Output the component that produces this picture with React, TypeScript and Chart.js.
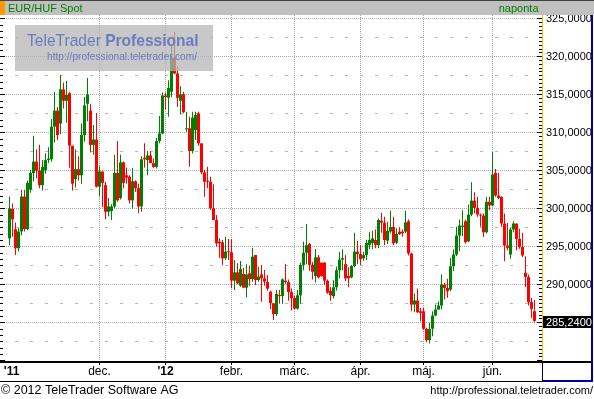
import React, { useEffect, useRef } from 'react';
import { Chart, registerables } from 'chart.js';

Chart.register(...registerables);

const FONT = '"Liberation Sans", Arial, Helvetica, sans-serif';
const GREEN = '#008000';
const RED = '#ff0000';

// trading-day index of the first candle (0 = 1 Dec 2011, one step per weekday)
const FIRST_DAY = -30;

const opens = [
  296.1, 300.0, 297.3, 294.8, 297.0, 301.6, 297.3, 302.5, 304.7, 306.2,
  305.0, 303.1, 305.1, 306.4, 306.5, 310.8, 312.9, 311.2, 315.7, 314.2,
  315.2, 308.3, 303.9, 305.2, 304.4, 309.7, 313.8, 312.9, 308.4, 309.1,
  302.9, 304.9, 303.1, 299.6, 299.7, 300.3, 304.7, 301.4, 306.1, 304.4,
  304.2, 301.1, 303.6, 302.7, 300.3, 306.7, 306.4, 307.0, 306.0, 305.5,
  308.9, 309.9, 314.9, 314.6, 315.4, 319.9, 317.8, 314.2, 315.05, 310.45,
  310.58, 307.59, 310.36, 312.55, 308.6, 304.78, 303.69, 303.55, 300.05, 298.51,
  295.66, 295.57, 293.47, 294.35, 294.26, 290.53, 291.63, 289.87, 291.41, 289.61,
  291.5, 290.75, 293.91, 290.62, 291.36, 290.84, 290.35, 289.08, 287.55, 286.14,
  288.6, 288.5, 290.53, 290.35, 289.04, 288.25, 286.85, 288.6, 292.6, 294.2,
  295.35, 292.6, 291.15, 293.6, 292.9, 292.9, 290.53, 289.2, 288.5, 289.65,
  291.9, 293.3, 292.7, 291.15, 290.97, 292.46, 294.35, 294.04, 293.47, 293.9,
  295.22, 295.5, 295.88, 295.22, 298.42, 298.16, 295.8, 297.0, 297.6, 295.53,
  296.98, 296.98, 296.98, 298.35, 294.1, 287.39, 287.92, 286.51, 286.51, 284.19,
  282.7, 284.19, 285.94, 286.73, 287.26, 290.02, 289.58, 289.36, 292.43, 293.97,
  296.47, 297.61, 298.35, 295.72, 299.23, 301.07, 300.11, 299.23, 299.1, 296.9,
  300.9, 300.42, 304.71, 301.73, 301.56, 298.05, 295.15, 293.97, 297.26, 298.05,
  296.03, 294.98, 291.56, 291.03, 287.7, 286.51,
];
const highs = [
  301.6, 300.7, 298.2, 297.5, 302.5, 302.5, 303.7, 305.1, 309.6, 307.8,
  308.4, 306.4, 307.3, 308.1, 311.8, 315.4, 313.4, 317.6, 316.6, 316.8,
  315.4, 308.3, 307.8, 306.9, 311.2, 314.7, 317.2, 313.8, 311.0, 312.6,
  305.6, 304.9, 303.5, 301.4, 300.6, 307.1, 308.9, 307.1, 306.2, 305.4,
  304.4, 305.4, 303.7, 303.3, 306.9, 308.6, 307.6, 307.6, 306.6, 309.3,
  312.2, 315.3, 315.3, 316.9, 321.5, 323.3, 318.7, 316.1, 315.4, 312.77,
  312.1, 312.77, 312.77, 312.77, 308.6, 305.09, 305.53, 304.21, 303.21, 299.17,
  296.1, 295.88, 296.32, 296.01, 296.01, 293.25, 292.81, 293.12, 292.24, 292.68,
  292.5, 294.87, 293.91, 292.37, 292.59, 291.93, 291.28, 289.2, 287.55, 289.3,
  289.3, 290.8, 292.72, 290.7, 289.5, 288.5, 289.3, 292.9, 295.7, 297.99,
  295.5, 293.0, 294.7, 293.9, 292.9, 293.0, 290.7, 289.7, 290.6, 292.4,
  294.3, 294.65, 293.9, 292.3, 292.6, 296.85, 295.8, 295.2, 294.35, 295.9,
  296.98, 297.1, 297.28, 298.7, 299.48, 298.95, 298.3, 299.74, 298.95, 297.42,
  297.55, 297.28, 299.74, 298.57, 294.19, 288.84, 289.5, 286.95, 286.95, 284.32,
  284.98, 286.51, 287.39, 287.83, 291.34, 290.24, 290.77, 293.53, 294.63, 297.61,
  298.57, 299.8, 298.57, 300.55, 303.49, 302.17, 301.56, 299.36, 299.36, 301.56,
  301.56, 307.48, 305.24, 304.71, 301.64, 299.36, 298.13, 297.48, 298.35, 298.05,
  297.35, 296.82, 293.75, 291.34, 288.27, 287.96,
];
const lows = [
  295.2, 296.3, 293.9, 294.4, 296.5, 297.0, 297.2, 302.1, 303.6, 304.0,
  302.7, 302.4, 304.6, 306.0, 306.2, 308.7, 309.0, 309.8, 313.2, 311.3,
  305.4, 302.4, 302.8, 303.7, 303.3, 308.8, 311.5, 307.4, 307.1, 302.8,
  301.6, 300.2, 298.6, 299.0, 298.5, 300.1, 300.9, 301.2, 302.7, 303.3,
  300.7, 300.0, 302.2, 299.4, 299.6, 305.4, 304.4, 306.0, 305.4, 305.3,
  308.6, 309.8, 313.1, 312.1, 314.7, 317.7, 313.4, 312.4, 312.55, 310.14,
  305.53, 307.28, 309.04, 308.29, 304.52, 301.59, 302.68, 299.83, 298.51, 295.0,
  293.56, 292.59, 293.25, 293.25, 289.52, 289.3, 290.05, 289.74, 289.52, 288.3,
  289.87, 290.4, 289.96, 290.4, 287.77, 289.87, 289.21, 286.8, 285.35, 285.88,
  287.5, 287.5, 290.1, 287.9, 286.6, 286.76, 286.7, 287.5, 291.9, 292.7,
  291.85, 290.7, 290.3, 290.84, 291.06, 289.96, 288.8, 287.9, 288.2, 289.2,
  290.8, 291.9, 290.5, 289.65, 290.84, 292.3, 292.7, 292.6, 293.16, 293.25,
  294.65, 294.65, 294.8, 294.8, 296.85, 295.22, 295.35, 296.76, 295.22, 295.35,
  296.54, 296.32, 296.76, 293.84, 286.51, 286.38, 286.29, 285.2, 284.1, 282.43,
  282.26, 283.22, 285.85, 286.73, 286.73, 288.05, 288.27, 289.14, 291.78, 293.75,
  294.41, 296.38, 295.42, 295.59, 299.01, 299.36, 298.93, 297.61, 296.29, 296.73,
  299.8, 300.33, 301.56, 301.29, 297.61, 293.09, 294.54, 293.4, 296.9, 294.54,
  294.72, 293.66, 289.71, 287.26, 285.63, 285.06,
];
const closes = [
  300.0, 298.6, 294.8, 297.0, 301.6, 297.3, 303.4, 304.7, 306.2, 305.0,
  303.1, 305.5, 306.4, 306.6, 310.8, 312.9, 309.7, 315.7, 314.2, 315.0,
  308.3, 303.3, 305.2, 304.4, 309.7, 313.6, 315.0, 308.4, 309.1, 302.9,
  304.9, 303.4, 299.6, 300.3, 300.3, 304.7, 301.1, 306.1, 303.4, 304.1,
  301.1, 303.6, 302.7, 300.3, 306.5, 306.5, 307.0, 306.0, 305.5, 308.9,
  309.9, 314.9, 314.7, 315.9, 319.9, 317.8, 314.6, 315.05, 312.7, 310.58,
  307.59, 311.98, 312.33, 308.6, 304.78, 303.55, 303.55, 300.05, 298.51, 295.44,
  295.44, 293.47, 294.35, 294.26, 290.53, 291.63, 290.18, 292.07, 289.61, 291.36,
  290.75, 293.69, 290.62, 291.06, 290.84, 290.4, 289.48, 287.6, 286.14, 288.78,
  288.5, 290.7, 290.35, 289.04, 288.25, 286.85, 288.6, 292.6, 294.2, 295.2,
  292.6, 291.7, 293.6, 290.97, 291.15, 290.53, 288.95, 288.6, 289.65, 291.9,
  293.3, 293.5, 290.84, 290.84, 292.46, 294.35, 294.04, 293.34, 293.9, 295.5,
  295.88, 296.1, 295.22, 298.51, 298.16, 295.88, 297.1, 297.6, 295.44, 296.67,
  296.67, 296.76, 298.2, 294.1, 287.39, 287.92, 286.38, 286.29, 284.19, 282.7,
  284.19, 285.94, 286.73, 287.26, 290.02, 289.58, 289.14, 292.43, 293.97, 296.47,
  297.78, 297.78, 295.59, 299.23, 301.07, 300.11, 299.23, 299.1, 296.9, 300.9,
  300.42, 304.49, 301.73, 301.42, 298.05, 295.15, 294.85, 297.26, 298.05, 296.03,
  294.98, 293.84, 291.03, 287.7, 286.82, 285.24,
];

const xTickDays = [-29.3, 0, 22, 44, 65, 87, 108, 131];
const xTickLabels = ["'11", 'dec.', "'12", 'febr.', 'márc.', 'ápr.', 'máj.', 'jún.'];
const monthGridDays = [0, 22, 44, 65, 87, 108, 131];
const yLabelValues = [290, 295, 300, 305, 310, 315, 320, 325];
const yMajorGrid = [285, 290, 295, 300, 305, 310, 315, 320, 325];
const yMinorGrid = [282.5, 287.5, 292.5, 297.5, 302.5, 307.5, 312.5, 317.5, 322.5];
const lastPrice = 285.24;

const X_MIN = -33 - 1 / 6;
const X_MAX = X_MIN + 542 / 3;
const Y_MIN = 279.96;
const Y_MAX = 325.49;

const fmt = (v: number) => v.toFixed(4).replace('.', ',');
const font = (size: number, weight = 'normal') => `${weight} ${size}px ${FONT}`;

const decor = {
  id: 'decor',
  beforeDraw(chart: any) {
    const { ctx, width, height } = chart;
    ctx.save();
    ctx.fillStyle = '#ffffff';
    ctx.fillRect(0, 0, width, height);
    ctx.restore();
  },
  beforeDatasetsDraw(chart: any) {
    const { ctx, chartArea: a, scales } = chart;
    const x = scales.x;
    const y = scales.y;
    ctx.save();
    ctx.beginPath();
    ctx.rect(a.left, a.top, a.right - a.left, a.bottom - a.top);
    ctx.clip();
    ctx.lineWidth = 1;
    ctx.strokeStyle = '#b8b8b8';
    ctx.setLineDash([3, 12]);
    for (const v of yMinorGrid) {
      const py = Math.floor(y.getPixelForValue(v)) + 0.5;
      ctx.beginPath();
      ctx.moveTo(a.left, py);
      ctx.lineTo(a.right, py);
      ctx.stroke();
    }
    ctx.strokeStyle = '#a8a8a8';
    ctx.setLineDash([1, 1]);
    for (const v of yMajorGrid) {
      const py = Math.floor(y.getPixelForValue(v)) + 0.5;
      ctx.beginPath();
      ctx.moveTo(a.left, py);
      ctx.lineTo(a.right, py);
      ctx.stroke();
    }
    for (const d of monthGridDays) {
      const px = Math.floor(x.getPixelForValue(d)) + 0.5;
      ctx.beginPath();
      ctx.moveTo(px, a.top);
      ctx.lineTo(px, a.bottom);
      ctx.stroke();
    }
    ctx.restore();
  },
  afterDatasetsDraw(chart: any) {
    const { ctx, chartArea: a, scales, width } = chart;
    const x = scales.x;
    const y = scales.y;
    ctx.save();

    // watermark
    ctx.fillStyle = 'rgba(179,179,179,0.73)';
    ctx.fillRect(15, 25, 198, 46);
    ctx.fillStyle = '#6b7bbf';
    ctx.textBaseline = 'alphabetic';
    ctx.textAlign = 'left';
    ctx.font = font(17);
    const w1 = ctx.measureText('TeleTrader ').width;
    ctx.font = font(17, 'bold');
    const w2 = ctx.measureText('Professional').width;
    ctx.save();
    ctx.translate(27, 46);
    ctx.scale(171.6 / (w1 + w2), 1);
    ctx.font = font(17);
    ctx.fillText('TeleTrader ', 0, 0);
    ctx.font = font(17, 'bold');
    ctx.fillText('Professional', w1, 0);
    ctx.restore();
    ctx.font = font(10);
    const w3 = ctx.measureText('http://professional.teletrader.com/').width;
    ctx.save();
    ctx.translate(47, 60);
    ctx.scale(150 / w3, 1);
    ctx.fillText('http://professional.teletrader.com/', 0, 0);
    ctx.restore();

    // header band
    ctx.fillStyle = '#c0c0c0';
    ctx.fillRect(0, 0, width, 15);
    ctx.fillStyle = '#404040';
    ctx.fillRect(0, 0, width, 1);
    ctx.fillStyle = '#ff9900';
    ctx.fillRect(0, 1, 5, 14);
    ctx.fillStyle = '#008000';
    ctx.font = font(11);
    ctx.fillText('EUR/HUF Spot', 8, 11.5);
    ctx.textAlign = 'right';
    ctx.fillText('naponta', 538.5, 11.5);
    ctx.textAlign = 'left';

    // left tick marks
    ctx.fillStyle = '#000';
    for (let k = 0; k <= 54; k++) {
      const v = 280 + (k * 5) / 6;
      if (v > Y_MAX) break;
      const py = Math.floor(y.getPixelForValue(v));
      const major = k % 6 === 0;
      ctx.fillRect(0, py, major ? 5 : 3, 1);
    }
    // right tick marks
    for (let k = 0; k <= 91; k++) {
      const v = 280 + k * 0.5;
      if (v > Y_MAX) break;
      const py = Math.floor(y.getPixelForValue(v));
      const major = k % 10 === 0;
      ctx.fillRect(major ? 537 : 539, py, major ? 5 : 3, 1);
    }

    // right axis panel borders
    ctx.fillStyle = '#f0c000';
    ctx.fillRect(a.right, a.top, 1, a.bottom - a.top);
    ctx.fillStyle = '#000';
    ctx.fillRect(0, a.bottom, width - 1, 2);
    ctx.fillRect(0, a.bottom + 20, a.right, 1);
    ctx.fillRect(a.right, a.bottom, 1, 20);
    ctx.fillStyle = '#0000a0';
    ctx.fillRect(width - 3, a.top, 2, a.bottom + 21 - a.top);
    ctx.fillRect(a.right, a.bottom + 19, width - 1 - a.right, 2);

    // x tick marks
    ctx.fillStyle = '#000';
    for (const d of monthGridDays) {
      const px = Math.floor(x.getPixelForValue(d));
      ctx.fillRect(px, a.bottom + 2, 1, 2);
    }

    // last price box
    const lp = y.getPixelForValue(lastPrice);
    ctx.fillStyle = '#000';
    ctx.fillRect(a.right + 1, Math.round(lp) - 5, 49, 12);
    ctx.fillStyle = '#fff';
    ctx.font = font(11);
    ctx.textBaseline = 'middle';
    ctx.fillText(fmt(lastPrice), a.right + 4, Math.round(lp) + 1.5);

    // footer
    ctx.textBaseline = 'alphabetic';
    ctx.fillStyle = '#000';
    ctx.font = font(12.5);
    ctx.fillText('\u00a9 2012 TeleTrader Software AG', 1, 394);
    ctx.font = font(11);
    ctx.textAlign = 'right';
    ctx.fillText('http://professional.teletrader.com/', 593, 394);
    ctx.restore();
  },
};

export default function App() {
  const ref = useRef<HTMLCanvasElement>(null);

  useEffect(() => {
    const canvas = ref.current;
    if (!canvas) return;
    const days = opens.map((_, k) => FIRST_DAY + k);
    const colors = opens.map((o, k) => (closes[k] >= o ? GREEN : RED));

    const chart = new Chart(canvas, {
      type: 'bar',
      data: {
        datasets: [
          {
            label: 'wick',
            data: days.map((d, k) => ({ x: d, y: [lows[k], highs[k]] })) as any,
            backgroundColor: colors,
            borderWidth: 0,
            barThickness: 1,
            grouped: false,
            inflateAmount: 0,
            order: 2,
          } as any,
          {
            label: 'body',
            data: days.map((d, k) => ({ x: d, y: [opens[k], closes[k]] })) as any,
            backgroundColor: colors,
            borderWidth: 0,
            barThickness: 3,
            minBarLength: 1,
            grouped: false,
            inflateAmount: 0,
            order: 1,
          } as any,
        ],
      },
      options: {
        animation: false,
        responsive: false,
        devicePixelRatio: 1,
        events: [],
        layout: { padding: { left: 0, right: 1, top: 15, bottom: 18 } },
        plugins: { legend: { display: false }, tooltip: { enabled: false } },
        scales: {
          x: {
            type: 'linear',
            min: X_MIN,
            max: X_MAX,
            offset: false,
            bounds: 'data',
            grid: { display: false, drawTicks: false },
            border: { display: false },
            afterBuildTicks: (s: any) => {
              s.ticks = xTickDays.map((v) => ({ value: v }));
            },
            afterFit: (s: any) => {
              s.height = 20;
              s.paddingLeft = 0;
              s.paddingRight = 0;
            },
            ticks: {
              autoSkip: false,
              maxRotation: 0,
              minRotation: 0,
              padding: 3,
              color: '#000',
              font: (c: any) => ({
                family: FONT,
                size: 12,
                weight: xTickLabels[c.index] && xTickLabels[c.index].startsWith("'") ? 'bold' : 'normal',
              }),
              callback: (_v: any, i: number) => xTickLabels[i],
            },
          } as any,
          y: {
            type: 'linear',
            position: 'right',
            min: Y_MIN,
            max: Y_MAX,
            bounds: 'data',
            grid: { display: false, drawTicks: false },
            border: { display: false },
            afterBuildTicks: (s: any) => {
              s.ticks = yLabelValues.map((v) => ({ value: v }));
            },
            afterFit: (s: any) => {
              s.width = 51;
              s.paddingTop = 0;
              s.paddingBottom = 0;
            },
            ticks: {
              padding: 4,
              color: '#000',
              font: { family: FONT, size: 11 },
              callback: (v: any) => fmt(Number(v)),
            },
          } as any,
        },
      },
      plugins: [decor],
    });
    return () => chart.destroy();
  }, []);

  return (
    <div style={{ position: 'fixed', left: 0, top: 0, width: 594, height: 399, background: '#fff' }}>
      <canvas ref={ref} width={594} height={399} style={{ display: 'block', width: 594, height: 399 }} />
    </div>
  );
}
